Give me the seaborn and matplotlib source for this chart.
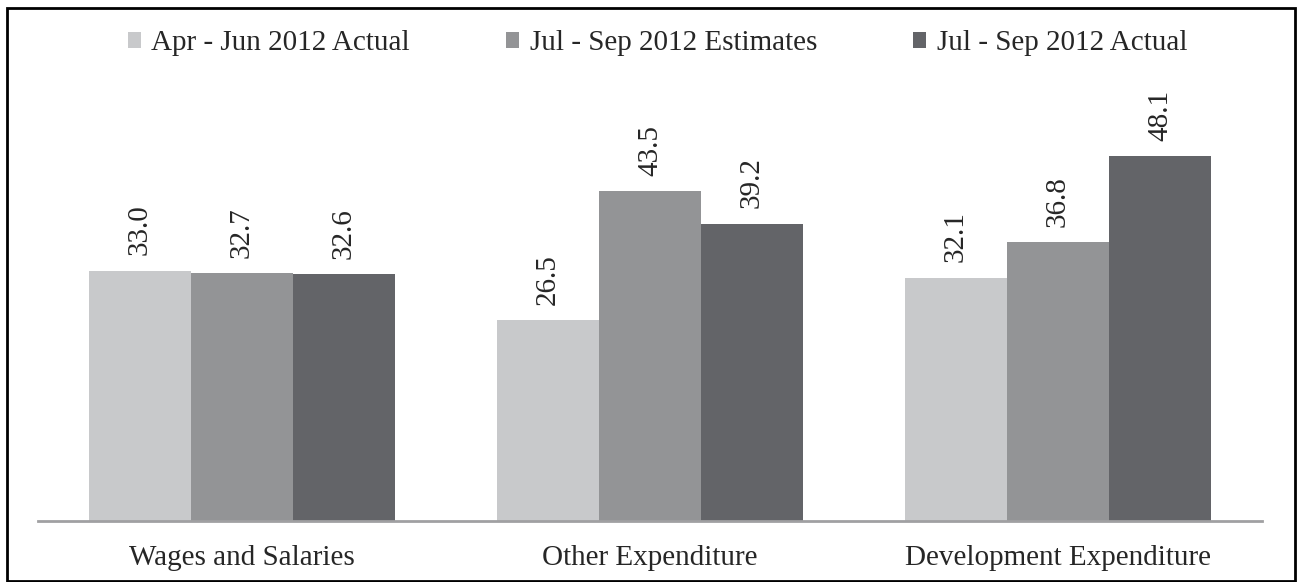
import matplotlib
matplotlib.use("Agg")
import matplotlib.pyplot as plt
import pandas as pd
import seaborn as sns

# dados
categorias = ["Wages and Salaries", "Other Expenditure", "Development Expenditure"]
series = ["Apr - Jun 2012 Actual", "Jul - Sep 2012 Estimates", "Jul - Sep 2012 Actual"]
apr_jun_actual = [33.0, 26.5, 32.1]
jul_sep_estimates = [32.7, 43.5, 36.8]
jul_sep_actual = [32.6, 39.2, 48.1]
cores = ["#C8C9CB", "#939496", "#636468"]

df = pd.DataFrame({
    "categoria": categorias * 3,
    "serie": [s for s in series for _ in categorias],
    "valor": apr_jun_actual + jul_sep_estimates + jul_sep_actual,
})

sns.set_theme(style="white")
plt.rcParams["font.family"] = ["Liberation Serif", "DejaVu Serif"]

fig = plt.figure(figsize=(13.02, 5.82), dpi=100)
ax = fig.add_axes([38 / 1302, 1 - 521 / 582, (1262 - 38) / 1302, (521 - 66) / 582])

sns.barplot(data=df, x="categoria", y="valor", hue="serie", hue_order=series,
            palette=cores, width=0.75, gap=0, edgecolor="none", linewidth=0,
            saturation=1, ax=ax)

# rótulos de valor na vertical
for cont in ax.containers:
    ax.bar_label(cont, fmt="%.1f", rotation=90, padding=11, fontsize=21)

ax.set_ylim(0, 60)
ax.set_xlim(-0.5, 2.5)
ax.set_xlabel("")
ax.set_ylabel("")
ax.set_yticks([])
ax.tick_params(axis="x", length=0, pad=17, labelsize=21)
for lado in ["top", "left", "right"]:
    ax.spines[lado].set_visible(False)
ax.spines["bottom"].set_color("#A0A0A2")
ax.spines["bottom"].set_linewidth(2)

ax.get_legend().remove()
handles, labels = ax.get_legend_handles_labels()
fig.legend(handles, labels, loc="upper center", bbox_to_anchor=(0.505, 0.993), ncol=3,
           frameon=False, fontsize=21, handlelength=0.45, handleheight=0.45,
           handletextpad=0.35, columnspacing=3.3)

# moldura
fig.add_artist(plt.Rectangle((7 / 1302, 1 / 582), 1288 / 1302, 573 / 582,
                             transform=fig.transFigure, fill=False,
                             edgecolor="black", linewidth=2))

fig.savefig("out.png", dpi=100)
